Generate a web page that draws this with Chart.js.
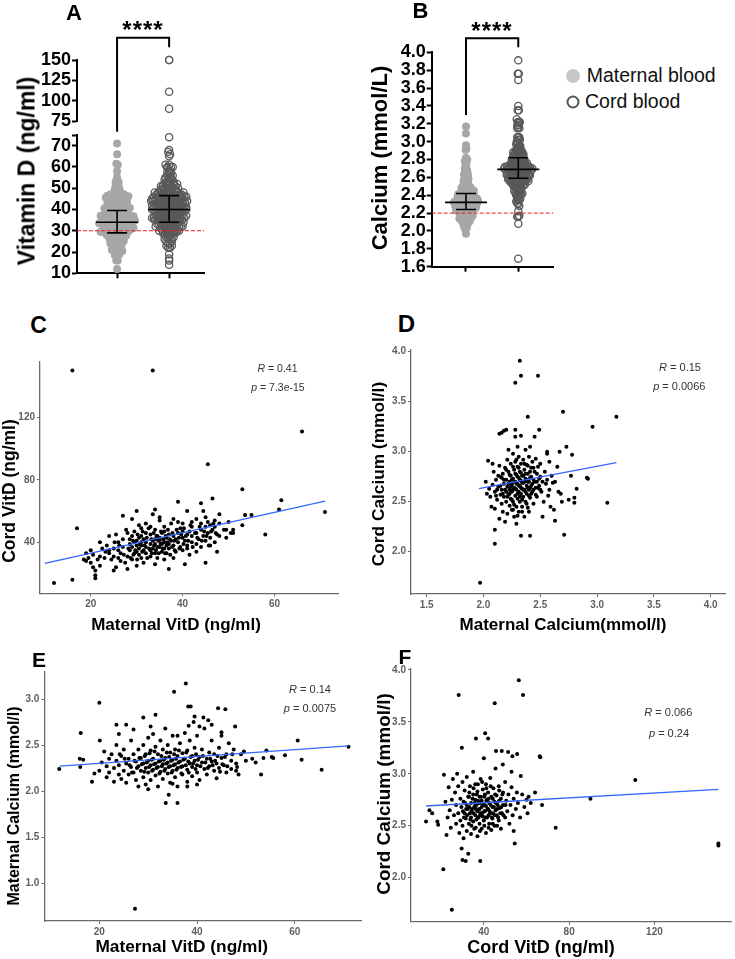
<!DOCTYPE html>
<html>
<head>
<meta charset="utf-8">
<script src="https://cdn.jsdelivr.net/npm/chart.js@4.4.1/dist/chart.umd.min.js"></script>
<style>
  html, body { margin: 0; padding: 0; background: #fff; }
  #fig { position: relative; width: 735px; height: 959px; overflow: hidden; font-family: Arial, "Liberation Sans", sans-serif; }
  #fig canvas { position: absolute; }
  .t { position: absolute; white-space: nowrap; color: #000; font-weight: bold; line-height: 1; transform: translate(-50%, -50%); }
  .rot { transform: translate(-50%, -50%) rotate(-90deg); }
  .ann { position: absolute; white-space: nowrap; font-size: 11px; color: #333; line-height: 1; transform: translate(-50%, -50%); }
  .leg { position: absolute; white-space: nowrap; font-size: 19.5px; color: #111; line-height: 1; transform: translate(0, -50%); }
  .dot { position: absolute; border-radius: 50%; transform: translate(-50%, -50%); box-sizing: border-box; }
</style>
</head>
<body>
<div id="fig">
  <canvas id="aLow"></canvas>
  <canvas id="aUp"></canvas>
  <canvas id="bCa"></canvas>
  <canvas id="cPlot"></canvas>
  <canvas id="dPlot"></canvas>
  <canvas id="ePlot"></canvas>
  <canvas id="fPlot"></canvas>

  <div class="t" style="left:74px;top:13px;font-size:22px">A</div>
  <div class="t" style="left:420.5px;top:10.5px;font-size:22px">B</div>
  <div class="t" style="left:38.5px;top:325px;font-size:23px">C</div>
  <div class="t" style="left:406.5px;top:324px;font-size:24px">D</div>
  <div class="t" style="left:39px;top:659px;font-size:21px">E</div>
  <div class="t" style="left:405px;top:655.5px;font-size:21px">F</div>

  <div class="t" style="left:143px;top:30px;font-size:24px;letter-spacing:1px">****</div>
  <div class="t" style="left:492px;top:31px;font-size:24px;letter-spacing:1px">****</div>

  <div class="t rot" style="left:26.7px;top:171px;font-size:23px">Vitamin D (ng/ml)</div>
  <div class="t rot" style="left:380px;top:157.5px;font-size:22px">Calcium (mmol/L)</div>

  <div class="dot" style="left:572.7px;top:76px;width:14px;height:14px;background:#c8c8c8"></div>
  <div class="leg" style="left:586.7px;top:76px">Maternal blood</div>
  <div class="dot" style="left:572.7px;top:102.3px;width:13px;height:13px;border:2px solid #555"></div>
  <div class="leg" style="left:585px;top:102.3px">Cord blood</div>

  <div class="t rot" style="left:10px;top:490.7px;font-size:17.5px">Cord VitD (ng/ml)</div>
  <div class="t" style="left:176px;top:624px;font-size:17px">Maternal VitD (ng/ml)</div>
  <div class="ann" style="left:277.5px;top:368.3px;font-size:10.5px"><i>R</i> = 0.41</div>
  <div class="ann" style="left:278px;top:387.3px;font-size:10.5px"><i>p</i> = 7.3e-15</div>

  <div class="t rot" style="left:379px;top:474px;font-size:17.3px">Cord Calcium (mmol/l)</div>
  <div class="t" style="left:563px;top:624px;font-size:17px">Maternal Calcium(mmol/l)</div>
  <div class="ann" style="left:680px;top:366.7px"><i>R</i> = 0.15</div>
  <div class="ann" style="left:679.3px;top:386px"><i>p</i> = 0.0066</div>

  <div class="t rot" style="left:13.8px;top:805.5px;font-size:16px">Maternal Calcium (mmol/l)</div>
  <div class="t" style="left:181.7px;top:946.7px;font-size:17.3px">Maternal VitD (ng/ml)</div>
  <div class="ann" style="left:310px;top:689px"><i>R</i> = 0.14</div>
  <div class="ann" style="left:310px;top:708.3px"><i>p</i> = 0.0075</div>

  <div class="t rot" style="left:384px;top:794px;font-size:18.9px">Cord Calcium (mmol/l)</div>
  <div class="t" style="left:541px;top:946.7px;font-size:18px">Cord VitD (ng/ml)</div>
  <div class="ann" style="left:668.3px;top:711.7px"><i>R</i> = 0.066</div>
  <div class="ann" style="left:669px;top:733.3px"><i>p</i> = 0.24</div>
</div>

<script>
// ---- data ----
const groups = ['Maternal blood', 'Cord blood'];

// A / B summary bars (median with IQR) and reference cut-offs
const vitDMedian = [34, 40];
const vitDLow = [29, 34];
const vitDHigh = [39.5, 46.5];
const caMedian = [2.32, 2.69];
const caLow = [2.24, 2.59];
const caHigh = [2.42, 2.82];
const vitDCutoff = 30;
const caCutoff = 2.2;

// tick labels
const aLowerTicks = [10, 20, 30, 40, 50, 60, 70, 75];
const aUpperTicks = [75, 100, 125, 150];
const bTicks = [1.6, 1.8, 2.0, 2.2, 2.4, 2.6, 2.8, 3.0, 3.2, 3.4, 3.6, 3.8, 4.0];
const cTicksX = [20, 40, 60];
const cTicksY = [40, 80, 120];
const dTicksX = [1.5, 2.0, 2.5, 3.0, 3.5, 4.0];
const dTicksY = [2.0, 2.5, 3.0, 3.5, 4.0];
const eTicksX = [20, 40, 60];
const eTicksY = [1.0, 1.5, 2.0, 2.5, 3.0];
const fTicksX = [40, 80, 120];
const fTicksY = [2.0, 2.5, 3.0, 3.5, 4.0];

// fitted lines (end points)
const cFit = [[10, 26.6], [71, 66.4]];
const dFit = [[1.96, 2.63], [3.17, 2.89]];
const eFit = [[11.9, 2.27], [71, 2.49]];
const fFit = [[12.9, 2.69], [150, 2.85]];

// C: maternal VitD (x) vs cord VitD (y)
const panelC = [
  [16, 150], [33.5, 150], [66, 111], [45.5, 90], [53, 74], [46.5, 68], [61.5, 67], [61, 61], [71, 59.5], [58, 45],
  [53.6, 57.5], [55, 57.5], [53, 51], [51, 46], [49.5, 48], [17, 49], [12, 14], [16, 16], [21, 17], [21, 19], [37, 23], [40.5, 26],
  [18.5, 29], [19, 28], [19.5, 30], [20, 27], [20, 35], [20.5, 32], [21, 22], [21.5, 29], [22, 25], [22, 40], [22.5, 36], [22, 31], [19, 33], [20.5, 24],
  [23, 30], [23.5, 38], [24, 33], [24, 44], [24.5, 29], [25, 31], [25, 36], [25.5, 24], [25.5, 45], [26, 35], [26, 40], [26.5, 28], [26.5, 33], [27, 37], [27, 57], [27.5, 27], [27, 42], [24, 35], [25, 22], [26, 30],
  [28, 23], [28, 31], [28.5, 35], [28.5, 39], [29, 29], [29, 44], [29, 37], [29.5, 33], [29.5, 47], [30, 41], [30, 25], [30, 60], [30.5, 36], [30.5, 32], [30.5, 51], [31, 38], [31, 44], [31, 30], [31.5, 42], [31.5, 35], [31.5, 27], [32, 40], [32, 46], [32, 33], [32, 52],
  [28, 46], [29, 55], [30, 34], [31, 49], [32, 37], [29.5, 40], [30.5, 43], [31, 40], [28.5, 42], [30, 38],
  [33, 31], [33, 39], [33, 45], [33.5, 36], [33.5, 58], [34, 42], [34, 33], [34, 48], [34, 39], [34.5, 30], [34.5, 44], [35, 37], [35, 41], [35, 54], [35.5, 34], [35.5, 46], [36, 40], [36, 29], [36, 50], [36.5, 38], [36.5, 43], [37, 36], [37, 45], [37.5, 41], [37.5, 52],
  [33, 35], [34, 26], [35, 43], [36, 36], [33.5, 41], [34.5, 37], [35.5, 39], [36.5, 33], [34, 61], [35, 56], [33, 50], [36, 47], [37, 39],
  [38, 38], [38, 44], [38, 55], [38.5, 42], [38.5, 34], [39, 46], [39, 40], [39, 66], [39.5, 37], [39.5, 49], [40, 43], [40, 35], [40, 52], [40.5, 41], [41, 45], [41, 60], [41, 38], [41.5, 47], [41.5, 32], [42, 44], [42, 50], [42, 40], [38, 30], [39, 53], [40, 47], [41, 36], [42, 53],
  [43, 46], [43, 39], [43, 55], [43.5, 42], [44, 48], [44, 52], [44, 37], [44.5, 44], [44.5, 60], [45, 41], [45, 50], [45, 27], [45.5, 46], [45.5, 53], [46, 43], [46, 51], [46.5, 48], [47, 40], [47, 54], [47.5, 34], [47.5, 45], [48, 52], [48, 58], [43, 34], [44, 65], [45, 56], [46, 38], [47, 50], [48, 44],
  [49, 48], [49.5, 43], [50, 53], [50.5, 46], [51, 48],
  [28.2, 36], [28.7, 30], [29.2, 41], [29.7, 35], [30.2, 45], [30.1, 29], [30.7, 39], [31.2, 34], [31.3, 47], [31.7, 38], [32.2, 43], [32.3, 30], [32.7, 36], [32.6, 49], [33.2, 42], [33.3, 33],
  [33.8, 38], [33.7, 46], [34.2, 35], [34.3, 44], [34.7, 41], [34.8, 33], [35.2, 39], [35.3, 47], [35.7, 36], [35.8, 42], [36.2, 33], [36.3, 44], [36.7, 40], [36.8, 48], [37.2, 42], [37.3, 32],
  [37.7, 37], [37.8, 46], [38.2, 41], [38.3, 35], [38.7, 48], [39.2, 43], [39.3, 36], [39.7, 45], [40.2, 39], [40.3, 49], [40.7, 44], [41.2, 41], [41.7, 51], [42.2, 37], [42.7, 46], [43.2, 43],
  [43.7, 50], [44.2, 41], [44.7, 47], [45.2, 44], [45.7, 38], [46.2, 47], [46.7, 52], [47.2, 46], [26.2, 38], [27.2, 32], [25.2, 40], [23.2, 34], [27.7, 48], [29.3, 32]
];

// D: maternal calcium (x) vs cord calcium (y)
const panelD = [
  [2.32, 3.91], [2.33, 3.76], [2.48, 3.76], [2.28, 3.69], [2.70, 3.40], [2.39, 3.35], [3.17, 3.35], [2.96, 3.25], [2.49, 3.22], [3.09, 2.49],
  [1.97, 1.69], [2.10, 2.22], [2.10, 2.08], [2.33, 2.16], [2.41, 2.16], [2.71, 2.17], [2.63, 2.31], [2.73, 3.05], [2.78, 2.97], [2.91, 2.74],
  [2.92, 2.73], [2.77, 2.76], [2.82, 2.63], [2.80, 2.54], [2.80, 2.49], [2.75, 2.52], [2.69, 2.50], [2.68, 2.58], [2.67, 3.00], [2.56, 3.00],
  [2.56, 2.98], [2.14, 3.18], [2.16, 3.19], [2.18, 3.21], [2.20, 3.22], [2.28, 3.22],
  [2.02, 2.70], [2.03, 2.58], [2.04, 2.91], [2.05, 2.63], [2.06, 2.55], [2.07, 2.45], [2.08, 2.88], [2.08, 2.67], [2.09, 2.80], [2.10, 2.60],
  [2.10, 2.43], [2.11, 2.72], [2.12, 2.52], [2.13, 2.65], [2.14, 2.86], [2.14, 2.33], [2.15, 2.57], [2.15, 2.75], [2.16, 2.48], [2.16, 2.62],
  [2.17, 2.78], [2.17, 2.40], [2.18, 2.68], [2.18, 2.55], [2.19, 2.84], [2.19, 2.30], [2.20, 2.60], [2.20, 2.72], [2.20, 2.50], [2.21, 2.92],
  [2.21, 2.65], [2.21, 2.38], [2.22, 2.80], [2.22, 2.57], [2.22, 3.02], [2.23, 2.70], [2.23, 2.46], [2.23, 2.62], [2.24, 2.76], [2.24, 2.53],
  [2.24, 2.88], [2.25, 2.67], [2.25, 2.42], [2.25, 2.60], [2.26, 2.73], [2.26, 2.98], [2.26, 2.50], [2.27, 2.82], [2.27, 2.64], [2.27, 2.35],
  [2.28, 2.70], [2.28, 2.56], [2.28, 2.90], [2.28, 3.15], [2.29, 2.62], [2.29, 2.77], [2.29, 2.45], [2.29, 2.28], [2.30, 2.68], [2.30, 2.85],
  [2.30, 2.53], [2.30, 3.05], [2.31, 2.74], [2.31, 2.60], [2.31, 2.95], [2.31, 2.40], [2.32, 2.66], [2.32, 2.80], [2.32, 2.50], [2.33, 2.71],
  [2.33, 2.58], [2.33, 2.88], [2.33, 3.16], [2.34, 2.63], [2.34, 2.76], [2.34, 2.45], [2.35, 2.69], [2.35, 2.92], [2.35, 2.55], [2.36, 2.82],
  [2.36, 2.62], [2.36, 2.35], [2.37, 2.73], [2.37, 2.50], [2.37, 3.02], [2.38, 2.66], [2.38, 2.87], [2.38, 2.58], [2.39, 2.78], [2.39, 2.44],
  [2.39, 2.70], [2.40, 2.62], [2.40, 2.95], [2.40, 2.40], [2.41, 2.74], [2.41, 3.05], [2.41, 2.54], [2.42, 2.84], [2.42, 2.66], [2.43, 2.60],
  [2.43, 2.90], [2.44, 2.72], [2.44, 2.48], [2.45, 3.15], [2.45, 2.80], [2.46, 2.64], [2.46, 2.93], [2.47, 2.70], [2.47, 2.55], [2.48, 2.85],
  [2.49, 2.66], [2.50, 2.75], [2.50, 2.88], [2.51, 2.60], [2.52, 2.70], [2.52, 2.35], [2.53, 2.50], [2.54, 2.80], [2.55, 2.68], [2.56, 2.72],
  [2.57, 2.56], [2.58, 2.62], [2.58, 2.90], [2.59, 2.45], [2.60, 2.76], [2.61, 2.69], [2.62, 2.42], [2.63, 2.70], [2.65, 2.85], [2.66, 2.60],
  [2.18, 2.72], [2.19, 2.62], [2.20, 2.82], [2.21, 2.55], [2.22, 2.68], [2.23, 2.77], [2.23, 2.58], [2.24, 2.65], [2.25, 2.72], [2.25, 2.52],
  [2.26, 2.85], [2.26, 2.62], [2.27, 2.70], [2.27, 2.47], [2.28, 2.78], [2.28, 2.63], [2.29, 2.68], [2.29, 2.92], [2.30, 2.58], [2.30, 2.75],
  [2.31, 2.66], [2.31, 2.84], [2.32, 2.55], [2.32, 2.72], [2.33, 2.64], [2.33, 2.79], [2.34, 2.69], [2.34, 2.52], [2.35, 2.76], [2.35, 2.62],
  [2.36, 2.70], [2.36, 2.88], [2.37, 2.60], [2.37, 2.78], [2.38, 2.72], [2.38, 2.48], [2.39, 2.64], [2.39, 2.86], [2.40, 2.70], [2.40, 2.56],
  [2.41, 2.80], [2.41, 2.64], [2.42, 2.75], [2.42, 2.58], [2.43, 2.68], [2.44, 2.62], [2.44, 2.84], [2.45, 2.70], [2.46, 2.57], [2.47, 2.78],
  [2.48, 2.64], [2.49, 2.73], [2.50, 2.62], [2.15, 2.66], [2.16, 2.74], [2.17, 2.58], [2.12, 2.62], [2.13, 2.76], [2.11, 2.56], [2.26, 2.42],
  [2.34, 2.40], [2.30, 2.36]
];

// E: maternal VitD (x) vs maternal calcium (y)
const panelE = [
  [27.3, 0.72], [37.7, 3.17], [35.3, 3.08], [20, 2.96], [11.8, 2.24], [16.2, 2.63], [16, 2.35], [16.7, 2.34], [16.1, 2.26], [18.5, 2.10],
  [20.1, 2.55], [71, 2.48], [65.5, 2.23], [61.4, 2.34], [60.6, 2.55], [58, 2.39], [53.1, 2.18], [54.2, 2.44], [55.3, 2.37], [55.6, 2.36],
  [53.6, 2.36], [49.6, 2.43], [51.3, 2.35], [52, 2.31], [33.6, 1.87], [36, 1.87], [34.2, 1.96], [31.5, 2.83], [25.5, 2.72], [23.5, 2.72],
  [29, 2.80], [38.2, 2.92], [38.7, 2.92], [44.3, 2.90], [45.8, 2.89], [47.8, 2.70], [42.3, 2.77], [41.3, 2.80], [39.5, 2.81], [39.3, 2.75],
  [19, 2.19], [20, 2.22], [20.5, 2.31], [21, 2.43], [21.5, 2.27], [21.5, 2.15], [22, 2.35], [22, 2.20], [22.5, 2.40], [23, 2.25],
  [23, 2.10], [23.5, 2.33], [23.5, 2.50], [24, 2.18], [24, 2.28], [24.5, 2.38], [24.5, 2.13], [25, 2.22], [25, 2.45], [25.5, 2.30],
  [25.5, 2.09], [26, 2.35], [26, 2.18], [26.5, 2.26], [26.5, 2.55], [27, 2.20], [27, 2.40], [27.5, 2.32], [27.5, 2.12], [28, 2.27],
  [28, 2.45], [28, 2.05], [28.5, 2.36], [28.5, 2.22], [29, 2.30], [29, 2.15], [29, 2.50], [29.5, 2.25], [29.5, 2.40], [29.5, 2.07],
  [30, 2.33], [30, 2.20], [30, 2.58], [30.5, 2.28], [30.5, 2.44], [30.5, 2.12], [31, 2.35], [31, 2.23], [31, 2.62], [31.5, 2.30],
  [31.5, 2.48], [31.5, 2.17], [32, 2.26], [32, 2.40], [32, 2.05], [32.5, 2.33], [32.5, 2.21], [32.5, 2.55], [33, 2.29], [33, 2.45],
  [33, 2.13], [33.5, 2.36], [33.5, 2.24], [33.5, 2.68], [34, 2.31], [34, 2.19], [34, 2.50], [34.5, 2.27], [34.5, 2.42], [34.5, 2.09],
  [35, 2.34], [35, 2.22], [35, 2.60], [35.5, 2.29], [35.5, 2.45], [35.5, 2.15], [36, 2.38], [36, 2.25], [36, 2.05], [36.5, 2.32],
  [36.5, 2.52], [37, 2.27], [37, 2.41], [37, 2.18], [37.5, 2.35], [37.5, 2.63], [38, 2.23], [38, 2.44], [38, 2.10], [38.5, 2.30],
  [38.5, 2.55], [39, 2.26], [39, 2.38], [39, 2.16], [39.5, 2.33], [39.5, 2.47], [40, 2.28], [40, 2.20], [40, 2.60], [40.5, 2.37],
  [40.5, 2.12], [41, 2.31], [41, 2.45], [41.5, 2.24], [41.5, 2.68], [42, 2.35], [42, 2.18], [42.5, 2.42], [42.5, 2.27], [43, 2.32],
  [43, 2.55], [43.5, 2.22], [43.5, 2.40], [44, 2.30], [44, 2.14], [44.5, 2.47], [44.5, 2.25], [45, 2.36], [45, 2.60], [45.5, 2.28],
  [46, 2.40], [46, 2.20], [46.5, 2.52], [47, 2.33], [47, 2.24], [47.5, 2.45], [48, 2.22], [48, 2.30], [48.5, 2.18], [49, 2.40], [50, 2.33],
  [24, 2.62], [27, 2.67], [30.5, 2.70], [36, 2.60], [38.3, 2.71], [40.5, 2.70], [43, 2.72], [45, 2.64], [30, 2.02], [35, 2.08], [38, 2.05], [40, 2.07],
  [26.2, 2.28], [26.7, 2.20], [27.2, 2.33], [27.7, 2.25], [28.2, 2.36], [28.7, 2.29], [29.2, 2.21], [29.3, 2.38], [29.7, 2.31], [30.2, 2.26],
  [30.3, 2.41], [30.7, 2.34], [30.8, 2.22], [31.2, 2.29], [31.3, 2.43], [31.7, 2.25], [32.2, 2.32], [32.3, 2.19], [32.7, 2.38], [32.8, 2.27],
  [33.2, 2.34], [33.3, 2.22], [33.7, 2.30], [33.8, 2.42], [34.2, 2.26], [34.3, 2.37], [34.7, 2.33], [34.8, 2.20], [35.2, 2.28], [35.3, 2.40],
  [35.7, 2.35], [35.8, 2.23], [36.2, 2.31], [36.3, 2.44], [36.7, 2.26], [36.8, 2.19], [37.2, 2.34], [37.7, 2.28], [37.8, 2.42], [38.2, 2.32],
  [38.3, 2.20], [38.7, 2.37], [39.2, 2.30], [39.7, 2.24], [39.8, 2.40], [40.2, 2.34], [40.7, 2.27], [41.2, 2.38], [41.7, 2.31], [42.2, 2.25],
  [42.7, 2.35], [43.2, 2.28], [43.7, 2.33], [44.2, 2.38], [44.7, 2.21], [45.2, 2.29], [45.7, 2.37], [46.2, 2.27], [47.2, 2.40], [48.2, 2.26],
  [25.2, 2.35], [24.2, 2.40]
];

// F: cord VitD (x) vs cord calcium (y)
const panelF = [
  [56.4, 3.90], [58.4, 3.76], [28.2, 3.76], [45.1, 3.68], [36.3, 3.34], [40.6, 3.39], [42, 3.34], [29.7, 3.25], [66.2, 3.17], [66.5, 3.16],
  [111, 2.94], [90, 2.76], [73.7, 2.48], [150, 2.33], [150, 2.31], [12.9, 2.54], [21, 2.08], [25, 1.69], [30, 2.17], [31.5, 2.16],
  [38.3, 2.16], [32.7, 2.23], [29.6, 2.28], [54.5, 2.33], [67.3, 2.70], [61, 2.78], [64, 2.82], [53, 3.02], [57.3, 2.98], [55.6, 3.19],
  [53.4, 3.17], [51.4, 3.21], [48.4, 3.22], [45.7, 3.22], [48.9, 3.09], [21.3, 2.99], [14.5, 2.65], [15.8, 2.62], [18.2, 2.54], [18.6, 2.51], [22.5, 2.41],
  [22, 2.73], [23, 2.58], [23.5, 2.87], [24, 2.65], [24.5, 2.48], [25, 2.75], [25.5, 2.95], [26, 2.60], [26.5, 2.82], [27, 2.52],
  [27, 2.70], [27.5, 3.00], [28, 2.62], [28, 2.88], [28.5, 2.43], [29, 2.76], [29, 2.55], [29.5, 2.68], [30, 2.92], [30, 2.50],
  [30.5, 2.73], [30.5, 2.38], [31, 2.62], [31, 2.84], [31.5, 2.57], [32, 2.70], [32, 2.97], [32, 2.45], [32.5, 2.66], [33, 2.78],
  [33, 2.52], [33.5, 2.62], [33.5, 2.88], [34, 2.72], [34, 2.42], [34, 2.58], [34.5, 2.66], [35, 2.80], [35, 2.54], [35, 3.02],
  [35.5, 2.68], [35.5, 2.47], [36, 2.75], [36, 2.60], [36, 2.90], [36.5, 2.56], [36.5, 2.70], [37, 2.64], [37, 2.83], [37, 2.40],
  [37.5, 2.72], [37.5, 2.58], [38, 2.78], [38, 2.66], [38, 2.52], [38.5, 2.95], [38.5, 2.62], [39, 2.74], [39, 2.47], [39, 2.68],
  [39.5, 2.85], [39.5, 2.59], [40, 2.71], [40, 2.55], [40, 3.15], [40.5, 2.80], [40.5, 2.64], [41, 2.69], [41, 2.43], [41, 2.90],
  [41.5, 2.75], [41.5, 2.58], [42, 2.66], [42, 2.82], [42.5, 2.52], [42.5, 2.72], [43, 2.62], [43, 2.96], [43.5, 2.78], [43.5, 2.46],
  [44, 2.68], [44, 2.57], [44.5, 2.86], [45, 2.73], [45, 2.50], [45.5, 2.65], [45.5, 3.05], [46, 2.79], [46, 2.60], [46.5, 2.70],
  [47, 2.55], [47, 2.88], [47.5, 2.67], [48, 2.76], [48, 2.47], [48.5, 2.62], [49, 2.82], [49, 2.70], [50, 2.58], [50, 2.92],
  [50.5, 2.74], [51, 2.64], [51.5, 2.80], [52, 2.52], [52.5, 2.70], [53, 2.87], [53.5, 2.60], [54, 2.76], [54, 2.45], [55, 2.66],
  [55.5, 2.82], [56, 2.72], [57, 2.58], [58, 2.80], [59, 2.68], [60, 2.75], [60.5, 2.62], [62, 2.72],
  [30.2, 2.64], [30.7, 2.58], [31.2, 2.72], [31.7, 2.66], [32.2, 2.60], [32.7, 2.78], [33.2, 2.68], [33.7, 2.56], [34.2, 2.64], [34.7, 2.76],
  [35.2, 2.62], [35.7, 2.72], [36.2, 2.66], [36.7, 2.80], [37.2, 2.58], [37.3, 2.74], [37.7, 2.66], [38.2, 2.60], [38.3, 2.72], [38.7, 2.78],
  [39.2, 2.62], [39.7, 2.70], [40.2, 2.64], [40.3, 2.78], [40.7, 2.58], [41.2, 2.74], [41.7, 2.66], [42.2, 2.60], [42.3, 2.76], [42.7, 2.64],
  [43.2, 2.70], [43.7, 2.58], [44.2, 2.76], [44.3, 2.62], [44.7, 2.68], [45.2, 2.60], [45.3, 2.80], [45.7, 2.72], [46.2, 2.66], [46.7, 2.58],
  [47.2, 2.74], [47.7, 2.62], [48.2, 2.68], [48.7, 2.80], [49.2, 2.60], [50.2, 2.70], [34.2, 2.50], [36.2, 2.48], [38.2, 2.45], [40.2, 2.50],
  [42.2, 2.48], [44.2, 2.52], [46.2, 2.50], [35.2, 2.86], [39.2, 2.92], [43.2, 2.88], [33.2, 2.82], [41.2, 2.86], [37.2, 2.90], [47.2, 2.84]
];

// A and B use the same subjects: maternal / cord values of panels C and D
const maternalVitD = panelC.map(p => p[0]);
const cordVitD = panelC.map(p => p[1]);
const maternalCa = panelD.map(p => p[0]);
const cordCa = panelD.map(p => p[1]);

// ---- helpers ----
Chart.defaults.font.family = 'Arial, "Liberation Sans", sans-serif';

// place a chart so that its plot area lands on a given rectangle of the page
function makeChart(id, box, area, datasets, scales, plugins) {
  const cv = document.getElementById(id);
  cv.width = box.w; cv.height = box.h;
  cv.style.left = box.x + 'px'; cv.style.top = box.y + 'px';
  cv.style.width = box.w + 'px'; cv.style.height = box.h + 'px';
  const yW = area.l - box.x;
  const xH = scales.x.display === false ? 0 : box.y + box.h - area.b;
  scales.y.afterFit = (s) => { s.width = yW; s.paddingTop = 0; s.paddingBottom = 0; };
  scales.x.afterFit = (s) => { s.height = xH; s.paddingLeft = 0; s.paddingRight = 0; };
  return new Chart(cv, {
    type: 'scatter',
    data: { datasets },
    options: {
      responsive: false, animation: false, devicePixelRatio: 1, events: [],
      layout: { padding: { left: 0, top: area.t - box.y, right: box.x + box.w - area.r, bottom: box.y + box.h - area.b - xH } },
      plugins: { legend: { display: false }, tooltip: { enabled: false } },
      scales
    },
    plugins: plugins || []
  });
}

const fixedTicks = (list) => (s) => { s.ticks = list.map((v) => ({ value: v })); };

function prismY(min, max, ticks, fmt) {
  return {
    type: 'linear', min, max, afterBuildTicks: fixedTicks(ticks),
    border: { display: true, color: '#000', width: 2 },
    grid: { display: true, drawOnChartArea: false, drawTicks: true, tickLength: 5, tickWidth: 2, tickColor: '#000', color: '#000' },
    ticks: { autoSkip: false, padding: 1, color: '#000', font: { size: 18, weight: 'bold' }, callback: fmt }
  };
}

function prismX(min, max, show) {
  return {
    type: 'linear', min, max, display: show, afterBuildTicks: fixedTicks([1, 2]),
    border: { display: true, color: '#000', width: 2 },
    grid: { display: true, drawOnChartArea: false, drawTicks: true, tickLength: 5, tickWidth: 2, tickColor: '#000', color: '#000' },
    ticks: { autoSkip: false, callback: () => '' }
  };
}

function ggAxis(min, max, ticks, fmt) {
  return {
    type: 'linear', min, max, afterBuildTicks: fixedTicks(ticks),
    border: { display: true, color: '#6b6b6b', width: 1.3 },
    grid: { display: true, drawOnChartArea: false, drawTicks: true, tickLength: 3, tickWidth: 1, tickColor: '#6b6b6b', color: '#6b6b6b' },
    ticks: { autoSkip: false, maxRotation: 0, padding: 2, color: '#5f5f5f', font: { size: 10, weight: 'bold' }, callback: fmt }
  };
}

// beeswarm layout: values sharing a bin are spread sideways around the group
// centre; the fullest bin is squeezed to `span` (x units), never wider than `step`
function swarm(values, group, binW, step, span) {
  const bins = new Map();
  values.forEach((v) => {
    const k = Math.round(v / binW);
    if (!bins.has(k)) bins.set(k, []);
    bins.get(k).push(v);
  });
  let most = 1;
  bins.forEach((list) => { most = Math.max(most, list.length); });
  const gap = Math.min(step, span / Math.max(most - 1, 1));
  const pts = [];
  bins.forEach((list) => list.forEach((v, i) => pts.push({ x: group + (i - (list.length - 1) / 2) * gap, y: v })));
  return pts;
}

const maternalStyle = { pointRadius: 4, pointBackgroundColor: '#a7a7a7', pointBorderWidth: 0, clip: false };
const cordStyle = { pointRadius: 3.6, pointBackgroundColor: 'rgba(255,255,255,0)', pointBorderColor: '#595959', pointBorderWidth: 1.3, clip: false };

function summaryPlugin(med, low, high, cutoff) {
  return {
    id: 'summary',
    afterDatasetsDraw(chart) {
      const { ctx, chartArea, scales: { x, y } } = chart;
      ctx.save();
      if (cutoff !== null) {
        const yc = y.getPixelForValue(cutoff);
        ctx.strokeStyle = '#ee1c1c'; ctx.lineWidth = 1; ctx.setLineDash([4, 2]);
        ctx.beginPath(); ctx.moveTo(chartArea.left, yc); ctx.lineTo(chartArea.right, yc); ctx.stroke();
        ctx.setLineDash([]);
      }
      ctx.strokeStyle = '#000'; ctx.lineWidth = 1.6;
      med.forEach((m, i) => {
        const cx = x.getPixelForValue(i + 1);
        const ym = y.getPixelForValue(m), y1 = y.getPixelForValue(low[i]), y3 = y.getPixelForValue(high[i]);
        ctx.beginPath();
        ctx.moveTo(cx - 21, ym); ctx.lineTo(cx + 21, ym);
        ctx.moveTo(cx, y1); ctx.lineTo(cx, y3);
        ctx.moveTo(cx - 10, y1); ctx.lineTo(cx + 10, y1);
        ctx.moveTo(cx - 10, y3); ctx.lineTo(cx + 10, y3);
        ctx.stroke();
      });
      ctx.restore();
    }
  };
}

function bracketPlugin(top, leftEnd, rightEnd) {
  return {
    id: 'bracket',
    afterDraw(chart) {
      const { ctx, scales: { x } } = chart;
      const x1 = x.getPixelForValue(1), x2 = x.getPixelForValue(2);
      ctx.save();
      ctx.strokeStyle = '#000'; ctx.lineWidth = 2;
      ctx.beginPath();
      ctx.moveTo(x1, leftEnd); ctx.lineTo(x1, top); ctx.lineTo(x2, top); ctx.lineTo(x2, rightEnd);
      ctx.stroke();
      ctx.restore();
    }
  };
}

// ---- A: vitamin D, broken axis (two stacked charts) ----
makeChart('aLow', { x: 0, y: 125, w: 215, h: 160 }, { l: 77, t: 135, r: 204, b: 273.3 }, [
  Object.assign({ label: groups[0], data: swarm(maternalVitD.filter((v) => v <= 75), 1, 1.9, 0.058, 0.69) }, maternalStyle),
  Object.assign({ label: groups[1], data: swarm(cordVitD.filter((v) => v <= 75), 2, 1.9, 0.058, 0.69) }, cordStyle)
], {
  x: prismX(0.23, 2.67, true),
  y: prismY(10, 75, aLowerTicks, (v) => (v === 75 ? '' : v))
}, [summaryPlugin(vitDMedian, vitDLow, vitDHigh, vitDCutoff)]);

makeChart('aUp', { x: 0, y: 0, w: 215, h: 134 }, { l: 77, t: 60, r: 204, b: 121 }, [
  Object.assign({ label: groups[1], data: cordVitD.filter((v) => v > 75).map((v) => ({ x: 2, y: v })) }, cordStyle)
], {
  x: prismX(0.23, 2.67, false),
  y: prismY(75, 150, aUpperTicks, (v) => v)
}, [bracketPlugin(37.7, 131.7, 47.3)]);

// ---- B: calcium ----
makeChart('bCa', { x: 250, y: 0, w: 310, h: 290 }, { l: 431.7, t: 52.3, r: 553.3, b: 266.7 }, [
  Object.assign({ label: groups[0], data: swarm(maternalCa, 1, 0.045, 0.057, 0.46) }, maternalStyle),
  Object.assign({ label: groups[1], data: swarm(cordCa, 2, 0.045, 0.057, 0.54) }, cordStyle)
], {
  x: prismX(0.344, 2.67, true),
  y: prismY(1.6, 4.0, bTicks, (v) => v.toFixed(1))
}, [summaryPlugin(caMedian, caLow, caHigh, caCutoff), bracketPlugin(38.3, 115, 47.3)]);

// ---- C-F: scatter plots with fitted line ----
function scatterSets(points, fit) {
  return [
    { data: fit.map(([x, y]) => ({ x, y })), showLine: true, borderColor: '#3366ff', borderWidth: 1.3, pointRadius: 0, order: 0, clip: false },
    { data: points.map(([x, y]) => ({ x, y })), pointRadius: 2, pointBackgroundColor: '#000', pointBorderWidth: 0, order: 1, clip: false }
  ];
}
const int = (v) => v;
const one = (v) => v.toFixed(1);

makeChart('cPlot', { x: 0, y: 340, w: 350, h: 280 }, { l: 40, t: 361.7, r: 338.3, b: 593.3 }, scatterSets(panelC, cFit), {
  x: ggAxis(8.95, 73.9, cTicksX, int), y: ggAxis(7.4, 155.6, cTicksY, int)
});
makeChart('dPlot', { x: 370, y: 340, w: 365, h: 280 }, { l: 411, t: 350, r: 725, b: 594 }, scatterSets(panelD, dFit), {
  x: ggAxis(1.362, 4.126, dTicksX, one), y: ggAxis(1.577, 4.017, dTicksY, one)
});
makeChart('ePlot', { x: 0, y: 660, w: 370, h: 280 }, { l: 44.3, t: 671.7, r: 361.7, b: 921 }, scatterSets(panelE, eFit), {
  x: ggAxis(8.74, 73.7, eTicksX, int), y: ggAxis(0.587, 3.297, eTicksY, one)
});
makeChart('fPlot', { x: 370, y: 660, w: 365, h: 280 }, { l: 411, t: 668.3, r: 731.7, b: 921.7 }, scatterSets(panelF, fFit), {
  x: ggAxis(5.85, 155.9, fTicksX, int), y: ggAxis(1.576, 4.016, fTicksY, one)
});
</script>
</body>
</html>
